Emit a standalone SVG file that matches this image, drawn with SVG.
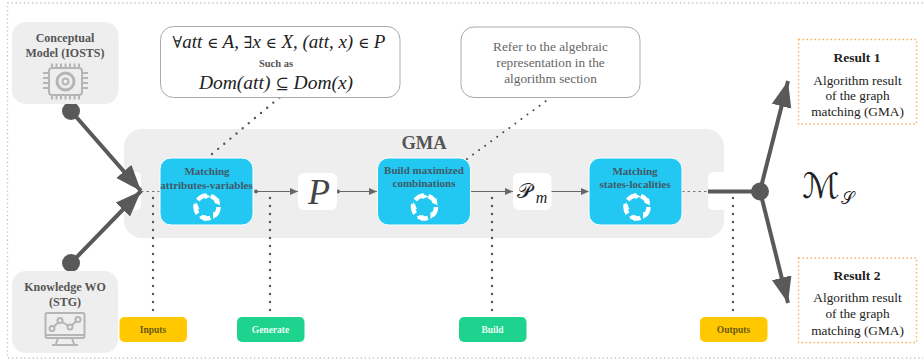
<svg xmlns="http://www.w3.org/2000/svg" width="923" height="363" viewBox="0 0 923 363">
<style>
text{font-family:"Liberation Serif","Times New Roman",serif;text-anchor:middle}
.src{font-size:12px;font-weight:bold;fill:#555}
.proc{font-size:11px;font-weight:bold;fill:#3f5a68}
.tag{font-size:9.5px;font-weight:bold}
.res{font-size:13.300px;fill:#222}
.math{font-style:italic;fill:#222}
.sym{font-style:normal;font-family:"DejaVu Serif",serif;font-weight:normal}
.cy{fill:#22c8f2;stroke:#fff;stroke-width:1}
.gray{fill:#eeeeee}
.wbox{fill:#fff}
.res-box{fill:#fff;stroke:#f9b25f;stroke-width:1.400;stroke-dasharray:1.500 2.500}
.bubble{fill:#fff;stroke:#aaa;stroke-width:1}
.thick{stroke:#595959;stroke-width:4;fill:none}
.thin{stroke:#666;stroke-width:1.200;fill:none}
.dot{stroke:#555;stroke-width:2.400;stroke-linecap:round;stroke-dasharray:0 8;fill:none}
.dot2{stroke:#444;stroke-width:2;stroke-linecap:round;stroke-dasharray:0 7.500;fill:none}
.icon{fill:none;stroke:#b5b5b5;stroke-width:2}
</style>
<defs>
<marker id="big" markerUnits="userSpaceOnUse" markerWidth="28" markerHeight="22" refX="26" refY="10" orient="auto"><path d="M0 0L26 10L0 20Z" fill="#595959"/></marker>
<marker id="small" markerUnits="userSpaceOnUse" markerWidth="9" markerHeight="8" refX="8" refY="3.500" orient="auto"><path d="M0 0L8 3.500L0 7Z" fill="#666"/></marker>
<g id="spin">
<circle r="11.500" fill="none" stroke="#fff" stroke-width="4.500" stroke-dasharray="10 4.450"/>
<path d="M-3 -13.500L4 -10.500L-2 -8ZM12 -9L13 -1.500L7 -5ZM12 7L6 12L6 5ZM-2 14.500L-8 9.500L-1 8ZM-13 3L-11 -5L-7.500 2Z" fill="#fff"/>
</g>
</defs>
<path d="M923 3H7.500V358H923" fill="none" stroke="#c4c4c4" stroke-width="1.300" stroke-dasharray="1.300 2.800"/>
<g id="gma">
<rect x="124" y="129" width="600" height="109" rx="18" class="gray"/>
<path d="M124 172H136Q141 172 141 177V205Q141 210 136 210H124Z" fill="#fff"/>
<path d="M724 172H714Q708 172 708 178V204Q708 210 714 210H724Z" fill="#fff"/>
<text x="424" y="148.500" font-size="18.500" font-weight="bold" fill="#555">GMA</text>
</g>
<g id="connectors">
<path class="dot" d="M153 198V314M270 198V314M492 198V314M733 198V314"/>
<path class="dot" d="M212 154L280 97"/>
<path class="dot2" d="M467 159L546 101"/>
<path d="M141 191.500H160M682 191.500H708" stroke="#777" stroke-width="1.200" stroke-dasharray="2.500 3" fill="none"/>
<path class="thin" d="M255 191.500H298" marker-end="url(#small)"/>
<path class="thin" d="M337 191.500H377" marker-end="url(#small)"/>
<path class="thin" d="M471 191.500H513" marker-end="url(#small)"/>
<path class="thin" d="M551 191.500H589" marker-end="url(#small)"/>
<circle cx="256" cy="191.500" r="2" fill="#666"/>
<circle cx="338" cy="191.500" r="2" fill="#666"/>
<path class="thick" d="M71 111L141 191" marker-end="url(#big)"/>
<path class="thick" d="M71 263L141 191" marker-end="url(#big)"/>
<path d="M708 191.500H760" stroke="#595959" stroke-width="4" fill="none"/>
<path class="thick" d="M760 191L788 81" marker-end="url(#big)"/>
<path class="thick" d="M760 191L788 303" marker-end="url(#big)"/>
<circle cx="71" cy="111" r="9" fill="#595959"/>
<circle cx="71" cy="263" r="9" fill="#595959"/>
<circle cx="760" cy="191.500" r="9" fill="#595959"/>
</g>
<g id="conceptual">
<rect x="12" y="22" width="106.500" height="82" rx="14" class="gray"/>
<text class="src" x="65" y="42">Conceptual</text>
<text class="src" x="65" y="57">Model (IOSTS)</text>
<rect x="49" y="68" width="33" height="27" rx="3" class="icon"/>
<path class="icon" d="M52 63.500v4M56.500 63.500v4M61 63.500v4M65.500 63.500v4M70 63.500v4M74.500 63.500v4M79 63.500v4M52 95.500v4M56.500 95.500v4M61 95.500v4M65.500 95.500v4M70 95.500v4M74.500 95.500v4M79 95.500v4M43 73h6M43 78h6M43 83h6M43 88h6M82 73h6M82 78h6M82 83h6M82 88h6"/>
<circle cx="65.500" cy="81.500" r="8.500" class="icon" style="stroke-width:3"/>
<circle cx="65.500" cy="81.500" r="3" class="icon"/>
</g>
<g id="knowledge">
<rect x="12" y="271" width="106" height="82" rx="14" class="gray"/>
<text class="src" x="65" y="291">Knowledge WO</text>
<text class="src" x="65" y="306">(STG)</text>
<rect x="45.500" y="313" width="39" height="25" rx="2" class="icon"/>
<path class="icon" d="M46 335h38M58 338l-2 6M72 338l2 6M52 345h26"/>
<path class="icon" d="M52 328.500L60 320.500L70 327L78 319.500"/>
<circle cx="52" cy="328.500" r="2.500" fill="#eee" stroke="#b5b5b5" stroke-width="2"/>
<circle cx="60" cy="320.500" r="2.500" fill="#eee" stroke="#b5b5b5" stroke-width="2"/>
<circle cx="70" cy="327" r="2.500" fill="#eee" stroke="#b5b5b5" stroke-width="2"/>
<circle cx="78" cy="319.500" r="2.500" fill="#eee" stroke="#b5b5b5" stroke-width="2"/>
</g>
<g id="matching-attributes">
<rect x="160" y="158" width="93" height="67" rx="11" class="cy"/>
<text class="proc" x="207" y="175">Matching</text>
<text class="proc" x="206.500" y="188.500">attributes-variables</text>
<use href="#spin" x="207" y="207"/>
</g>
<g id="build-combinations">
<rect x="377.500" y="158" width="93" height="67" rx="11" class="cy"/>
<text class="proc" x="424" y="174">Build maximized</text>
<text class="proc" x="424" y="187">combinations</text>
<use href="#spin" x="424.500" y="207"/>
</g>
<g id="matching-states">
<rect x="589" y="158" width="93" height="67" rx="11" class="cy"/>
<text class="proc" x="635" y="175">Matching</text>
<text class="proc" x="635" y="188">states-localities</text>
<use href="#spin" x="637" y="207"/>
</g>
<g id="p">
<rect x="298" y="173" width="39" height="37" rx="6" class="wbox"/>
<text class="math" x="319" y="204" font-size="36" style="fill:#444">P</text>
</g>
<g id="pm">
<rect x="513" y="173" width="38.500" height="37" rx="6" class="wbox"/>
<text x="524" y="198" font-size="21" fill="#222" style="font-family:'DejaVu Serif','DejaVu Sans',serif">𝒫</text>
<text class="math" x="541.500" y="203" font-size="16">m</text>
</g>
<g id="bubble-formula">
<rect x="160.500" y="26.500" width="239.500" height="71" rx="13" class="bubble"/>
<text class="math" x="279" y="48" font-size="19"><tspan class="sym" font-size="16">∀</tspan>att <tspan class="sym" font-size="15">∈</tspan> A, <tspan class="sym" font-size="16">∃</tspan>x <tspan class="sym" font-size="15">∈</tspan> X, (att, x) <tspan class="sym" font-size="15">∈</tspan> P</text>
<text x="276" y="67" font-size="10.500" font-weight="bold" fill="#555">Such as</text>
<text class="math" x="276" y="89" font-size="19.500">Dom(att) <tspan class="sym" font-size="16">⊆</tspan> Dom(x)</text>
</g>
<g id="bubble-note">
<rect x="461" y="27" width="179" height="70.500" rx="13" class="bubble"/>
<text x="550.500" y="51" font-size="13.300" fill="#666">Refer to the algebraic</text>
<text x="550.500" y="67" font-size="13.300" fill="#666">representation in the</text>
<text x="550.500" y="83" font-size="13.300" fill="#666">algorithm section</text>
</g>
<g id="ms">
<text x="821" y="198" font-size="35" style="font-family:'DejaVu Serif','DejaVu Sans',serif" fill="#222">ℳ</text>
<text x="847" y="204" font-size="17" style="font-family:'DejaVu Serif','DejaVu Sans',serif" fill="#222">𝒮</text>
</g>
<g id="result1">
<rect x="798.500" y="39.500" width="118" height="84.500" class="res-box"/>
<text x="857" y="62" font-size="13.500" font-weight="bold" fill="#222">Result 1</text>
<text class="res" x="857.500" y="85">Algorithm result</text>
<text class="res" x="857.500" y="100">of the graph</text>
<text class="res" x="857.500" y="116">matching (GMA)</text>
</g>
<g id="result2">
<rect x="798.500" y="258" width="118" height="84.500" class="res-box"/>
<text x="857" y="280" font-size="13.500" font-weight="bold" fill="#222">Result 2</text>
<text class="res" x="857.500" y="302">Algorithm result</text>
<text class="res" x="857.500" y="318">of the graph</text>
<text class="res" x="857.500" y="335">matching (GMA)</text>
</g>
<g id="inputs"><rect x="119.500" y="317" width="67.500" height="25" rx="5" fill="#ffc800"/><text class="tag" x="153" y="332.500" fill="#6b5a10">Inputs</text></g>
<g id="generate"><rect x="237" y="317" width="67.500" height="25" rx="5" fill="#1dd38e"/><text class="tag" x="270.500" y="332.500" fill="#eafff5">Generate</text></g>
<g id="build"><rect x="459" y="317" width="67.500" height="25" rx="5" fill="#1dd38e"/><text class="tag" x="492.500" y="332.500" fill="#eafff5">Build</text></g>
<g id="outputs"><rect x="700" y="317" width="67.500" height="25" rx="5" fill="#ffc800"/><text class="tag" x="733.500" y="332.500" fill="#6b5a10">Outputs</text></g>
</svg>
